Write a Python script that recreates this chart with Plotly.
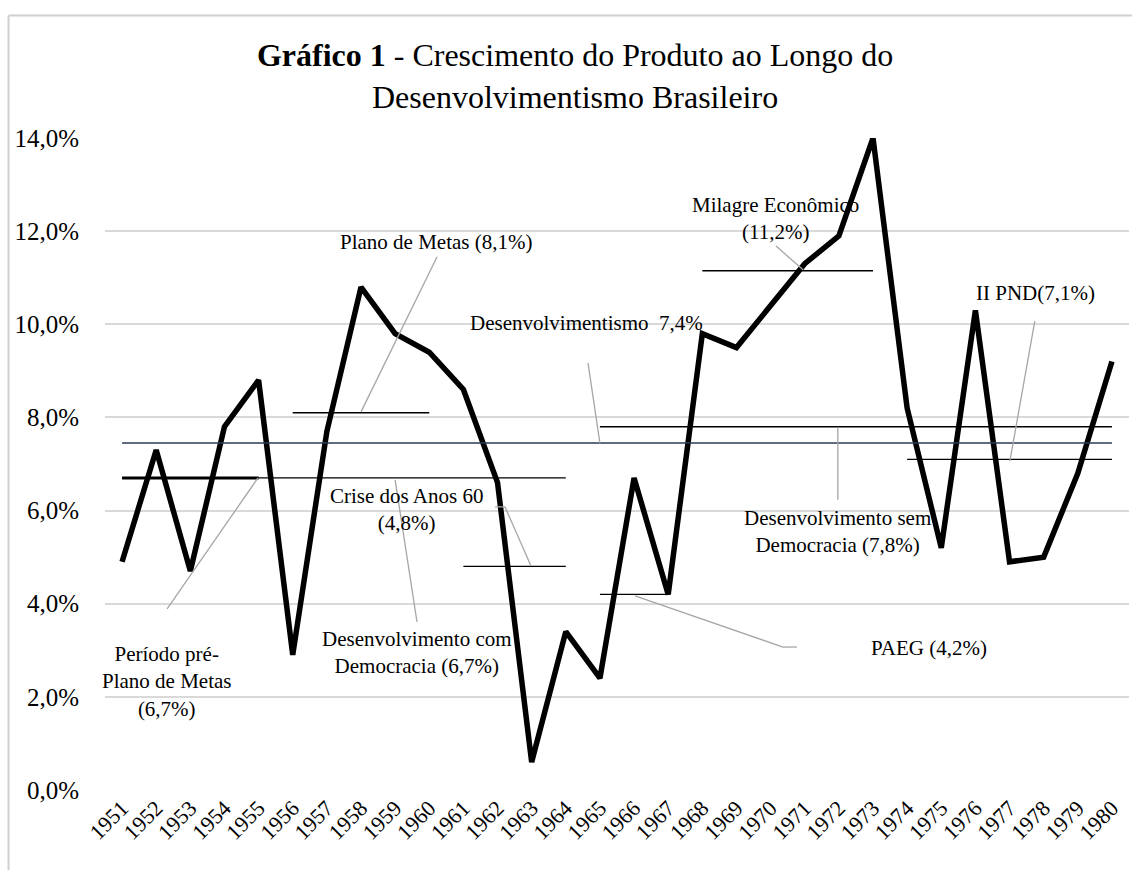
import plotly.graph_objects as go

# PIB: taxa de crescimento anual (%)
anos = list(range(1951, 1981))
crescimento = [4.9, 7.3, 4.7, 7.8, 8.8, 2.9, 7.7, 10.8, 9.8, 9.4,
               8.6, 6.6, 0.6, 3.4, 2.4, 6.7, 4.2, 9.8, 9.5, 10.4,
               11.3, 11.9, 14.0, 8.2, 5.2, 10.3, 4.9, 5.0, 6.8, 9.2]

# medias por periodo
periodo_nome = ['Desenvolvimento com Democracia', 'Período pré-Plano de Metas',
                'Plano de Metas', 'Crise dos Anos 60', 'PAEG', 'Milagre Econômico',
                'II PND', 'Desenvolvimento sem Democracia', 'Desenvolvimentismo']
periodo_inicio = [1951, 1951, 1956, 1961, 1965, 1968, 1974, 1965, 1951]
periodo_fim = [1964, 1955, 1960, 1964, 1967, 1973, 1980, 1980, 1980]
periodo_media = [6.7, 6.7, 8.1, 4.8, 4.2, 11.15, 7.1, 7.8, 7.45]

FONTE = 'Liberation Serif'
CINZA = '#a6a6a6'

fig = go.Figure()
fig.add_trace(go.Scatter(x=anos, y=crescimento, mode='lines',
                         line=dict(color='black', width=5.5),
                         showlegend=False, hoverinfo='skip'))

for nome, ini, fim, med in zip(periodo_nome, periodo_inicio, periodo_fim, periodo_media):
    cor, larg = 'black', 1.3
    if nome == 'Período pré-Plano de Metas':
        larg = 3
    if nome == 'Desenvolvimentismo':
        cor, larg = '#2b3a55', 1.6
    fig.add_trace(go.Scatter(x=[ini, fim], y=[med, med], mode='lines',
                             line=dict(color=cor, width=larg),
                             showlegend=False, hoverinfo='skip'))

# linhas de chamada (cinza)
chamadas = [
    [(1954.98, 6.70), (1952.32, 3.89)],
    [(1959.0, 6.66), (1959.64, 3.61)],
    [(1961.93, 6.08), (1962.22, 6.08), (1962.98, 4.81)],
    [(1960.23, 11.45), (1958.0, 8.12)],
    [(1964.65, 9.17), (1965.0, 7.45)],
    [(1970.16, 11.68), (1970.95, 11.17)],
    [(1977.74, 10.07), (1977.01, 7.06)],
    [(1971.97, 7.79), (1971.97, 6.23)],
    [(1966.03, 4.17), (1970.36, 3.07), (1970.77, 3.07)],
]
for pts in chamadas:
    for (x0, y0), (x1, y1) in zip(pts[:-1], pts[1:]):
        fig.add_shape(type='line', x0=x0, y0=y0, x1=x1, y1=y1,
                      xref='x', yref='y', line=dict(color=CINZA, width=1.3))

rotulos = [
    ('Período pré-<br>Plano de Metas<br>(6,7%)', 1952.29, 2.32),
    ('Desenvolvimento com<br>Democracia (6,7%)', 1959.64, 2.95),
    ('Crise dos Anos 60<br>(4,8%)', 1959.32, 6.03),
    ('Plano de Metas (8,1%)', 1960.2, 11.77),
    ('Desenvolvimentismo  7,4%', 1964.62, 10.03),
    ('Milagre Econômico<br>(11,2%)', 1970.13, 12.27),
    ('II PND(7,1%)', 1977.77, 10.67),
    ('Desenvolvimento sem<br>Democracia (7,8%)', 1971.97, 5.56),
    ('PAEG (4,2%)', 1974.64, 3.05),
]
for txt, x, y in rotulos:
    fig.add_annotation(x=x, y=y, text=txt, showarrow=False,
                       xanchor='center', yanchor='middle', align='center',
                       font=dict(family=FONTE, size=21, color='black'))

# moldura do grafico (area do grafico do Excel, cortada a direita e embaixo)
fig.add_shape(type='line', xref='paper', yref='paper',
              x0=-0.0942, x1=1.01, y0=1.188, y1=1.188,
              line=dict(color='#cfcfcf', width=2))
fig.add_shape(type='line', xref='paper', yref='paper',
              x0=-0.0942, x1=-0.0942, y0=-0.3, y1=1.188,
              line=dict(color='#cfcfcf', width=2))

fig.update_layout(
    width=1132, height=870,
    margin=dict(l=105, r=3, t=138, b=80, autoexpand=False),
    paper_bgcolor='white', plot_bgcolor='white',
    separators=',.',
    font=dict(family=FONTE, color='black'),
    title=dict(text='<b>Gráfico 1</b> - Crescimento do Produto ao Longo do<br>Desenvolvimentismo Brasileiro',
               x=0.508, xanchor='center', xref='container',
               y=1 - 66 / 870, yanchor='middle', yref='container',
               font=dict(family=FONTE, size=32, color='black')),
    xaxis=dict(range=[1950.5, 1980.5], tickvals=anos, ticktext=[str(a) for a in anos],
               tickangle=-45, tickfont=dict(family=FONTE, size=22, color='black'),
               showgrid=False, zeroline=False, showline=False, ticks=''),
    yaxis=dict(range=[0, 14], dtick=2, tickformat='.1f', ticksuffix='%',
               tickfont=dict(family=FONTE, size=25, color='black'),
               showgrid=True, gridcolor='#d9d9d9', gridwidth=1.5,
               zeroline=False, showline=False, ticks='', ticklabelstandoff=25),
)

fig.write_html('out.html', config={'displayModeBar': False},
               post_script="document.body.style.margin='0px';")
